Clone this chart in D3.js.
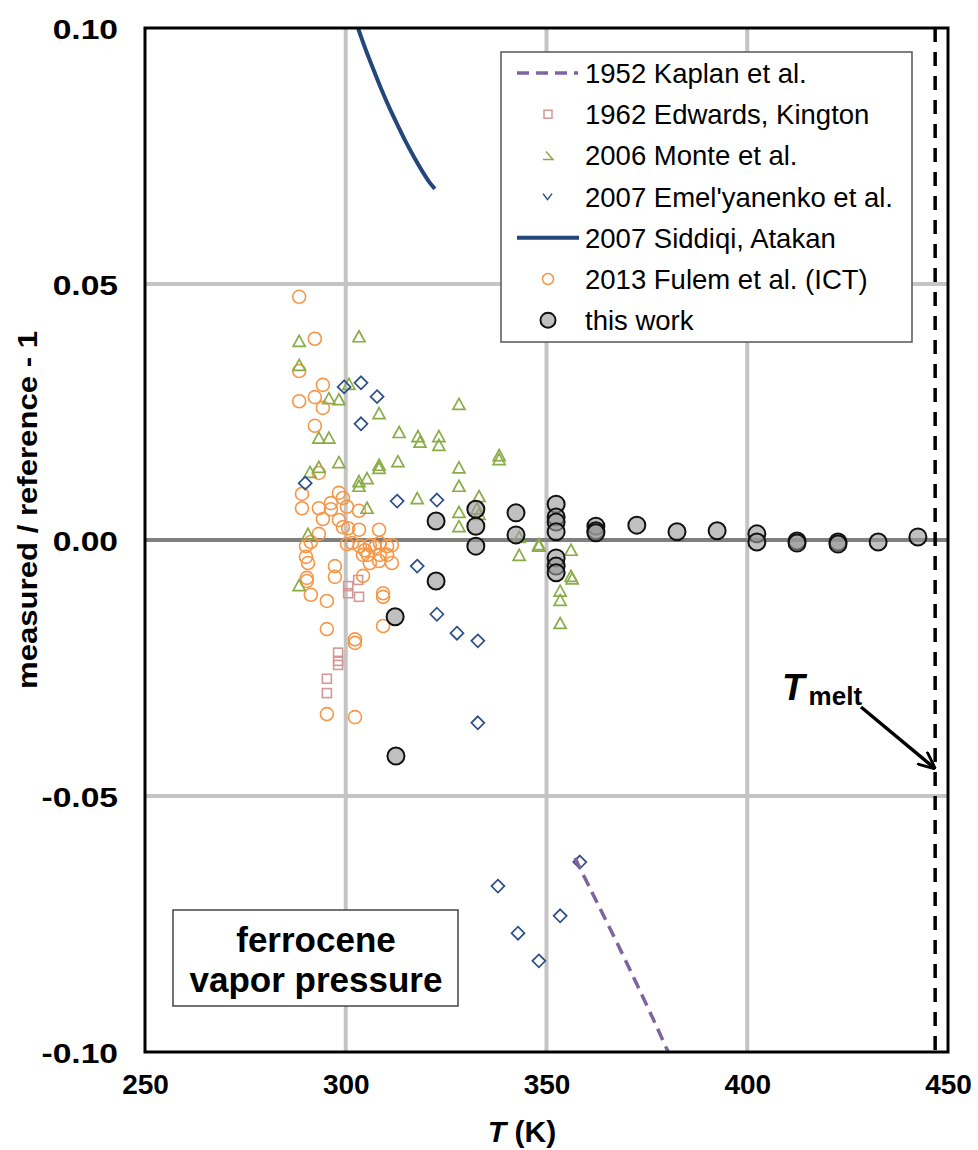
<!DOCTYPE html>
<html>
<head>
<meta charset="utf-8">
<script src="https://cdnjs.cloudflare.com/ajax/libs/d3/7.8.5/d3.min.js"></script>
<style>
  body { margin: 0; background: #fff; }
  text { font-family: "Liberation Sans", Arial, sans-serif; }
</style>
</head>
<body>
<div id="chart"></div>
<script>
// data: [T (K), measured/reference - 1]
var kaplan1952 = [[357.1,-0.0621],[361,-0.0683],[365,-0.0746],[369,-0.0810],[373,-0.0876],[377,-0.0943],[380.3,-0.1]];
var edwards1962 = [[303.1,-0.0078],[300.6,-0.0090],[300.6,-0.0104],[303.3,-0.0111],[298.1,-0.0220],
  [298.1,-0.0236],[298.1,-0.0244],[295.3,-0.0271],[295.3,-0.0299]];
var monte2006 = [[288.4,0.0387],[303.3,0.0396],[288.4,0.0340],[300.8,0.0303],[295.8,0.0275],[298.3,0.0273],
  [308.3,0.0246],[313.3,0.0209],[318.0,0.0201],[293.3,0.0198],[295.8,0.0198],[328.2,0.0264],[318.5,0.0190],
  [323.2,0.0201],[323.2,0.0184],[338.2,0.0164],[338.2,0.0156],[298.3,0.0150],[308.3,0.0145],[308.3,0.0139],
  [313.0,0.0152],[293.3,0.0141],[291.1,0.0131],[303.3,0.0113],[305.3,0.0119],[303.3,0.0104],[305.3,0.0061],
  [317.8,0.0080],[290.6,0.0010],[288.4,-0.0090],[328.2,0.0140],[328.2,0.0104],[333.2,0.0084],[328.2,0.0053],
  [328.2,0.0025],[332.7,0.0060],[333.2,0.0049],[343.2,0.0004],[343.2,-0.0031],[348.1,-0.0010],[348.1,-0.0013],
  [356.1,-0.0021],[356.1,-0.0072],[356.4,-0.0077],[353.4,-0.0101],[353.4,-0.0119],[353.4,-0.0164]];
var emelyanenko2007 = [[299.6,0.0299],[303.8,0.0307],[307.8,0.0280],[303.8,0.0227],[289.9,0.0111],[312.8,0.0076],
  [317.8,-0.0051],[322.7,0.0078],[322.7,-0.0145],[327.7,-0.0182],[332.9,-0.0197],[332.9,-0.0357],[358.3,-0.0629],
  [337.9,-0.0676],[342.9,-0.0768],[353.4,-0.0734],[348.1,-0.0822]];
var siddiqi2007 = [[302.6,0.1010],[305,0.0957],[307,0.0917],[309,0.0878],[311,0.0842],[313,0.0809],[315,0.0777],
  [317,0.0748],[319,0.0721],[321,0.0697],[322.2,0.0686]];
var fulem2013 = [[288.4,0.0475],[292.3,0.0393],[288.4,0.0330],[294.3,0.0303],[288.4,0.0271],[292.3,0.0279],
  [294.3,0.0258],[292.3,0.0223],[293.3,0.0131],[289.1,0.0090],[289.1,0.0062],[298.3,0.0092],[299.3,0.0082],
  [296.3,0.0072],[293.3,0.0062],[296.3,0.0060],[300.3,0.0065],[303.3,0.0057],[294.3,0.0041],[298.3,0.0039],
  [299.3,0.0025],[300.6,0.0023],[303.3,0.0020],[293.3,0.0012],[308.3,0.0020],[291.3,-0.0004],[290.1,-0.0012],
  [300.3,-0.0008],[301.6,-0.0006],[303.5,-0.0012],[304.8,-0.0020],[306.0,-0.0010],[307.3,-0.0014],[308.5,-0.0006],
  [310.3,-0.0012],[311.5,-0.0010],[304.3,-0.0029],[305.5,-0.0029],[290.1,-0.0033],[308.5,-0.0029],[310.3,-0.0029],
  [306.0,-0.0045],[308.3,-0.0041],[290.6,-0.0045],[311.5,-0.0045],[297.3,-0.0051],[304.3,-0.0070],[290.3,-0.0074],
  [297.3,-0.0072],[290.3,-0.0080],[291.3,-0.0107],[295.3,-0.0119],[309.3,-0.0104],[309.3,-0.0111],[309.3,-0.0168],
  [295.3,-0.0174],[302.3,-0.0194],[302.3,-0.0201],[295.3,-0.0340],[302.3,-0.0346]];
var thisWork = [[322.5,0.0037],[322.5,-0.0080],[312.3,-0.0150],[332.4,0.0060],[332.4,0.0027],[332.4,-0.0012],
  [342.4,0.0053],[342.4,0.0010],[352.4,0.0070],[352.4,0.0045],[352.4,0.0035],[352.4,0.0016],[352.4,-0.0035],
  [352.4,-0.0051],[352.4,-0.0064],[312.5,-0.0422],[362.3,0.0027],[362.3,0.0018],[362.3,0.0014],[372.5,0.0029],
  [382.5,0.0016],[392.5,0.0018],[402.4,0.0012],[402.4,-0.0004],[412.4,-0.0002],[412.4,-0.0006],[422.6,-0.0004],
  [422.6,-0.0008],[432.6,-0.0004],[442.5,0.0006]];
var tMelt = 446.8;

var xTicks = [250, 300, 350, 400, 450];
var yTicks = [-0.10, -0.05, 0.00, 0.05, 0.10];
var legendLabels = ["1952 Kaplan et al.", "1962 Edwards, Kington", "2006 Monte et al.",
  "2007 Emel'yanenko et al.", "2007 Siddiqi, Atakan", "2013 Fulem et al. (ICT)", "this work"];

var W = 978, H = 1150;
var margin = {top: 28, right: 30, bottom: 98, left: 145};

var svg = d3.select("#chart").append("svg")
  .attr("width", W).attr("height", H);

var x = d3.scaleLinear().domain([250, 450]).range([margin.left, W - margin.right]);
var y = d3.scaleLinear().domain([-0.1, 0.1]).range([H - margin.bottom, margin.top]);

// ---------------------------//
//       GRID                 //
// ---------------------------//
svg.append("g")
  .selectAll("line.vgrid")
  .data(xTicks.slice(1, -1))
  .enter().append("line")
  .attr("x1", d => x(d)).attr("x2", d => x(d))
  .attr("y1", y(0.1)).attr("y2", y(-0.1))
  .style("stroke", "#c4c4c4").style("stroke-width", 4);

svg.append("g")
  .selectAll("line.hgrid")
  .data([0.05, -0.05])
  .enter().append("line")
  .attr("x1", x(250)).attr("x2", x(450))
  .attr("y1", d => y(d)).attr("y2", d => y(d))
  .style("stroke", "#c4c4c4").style("stroke-width", 4);

svg.append("line")
  .attr("x1", x(250)).attr("x2", x(450))
  .attr("y1", y(0)).attr("y2", y(0))
  .style("stroke", "#7f7f7f").style("stroke-width", 4);

// ---------------------------//
//       AXES                 //
// ---------------------------//
var xAxis = svg.append("g")
  .attr("transform", "translate(0," + (y(-0.1) + 14) + ")")
  .call(d3.axisBottom(x).tickValues(xTicks).tickSize(0).tickFormat(d3.format("d")));
var yAxis = svg.append("g")
  .attr("transform", "translate(" + (x(250) - 27) + ",0)")
  .call(d3.axisLeft(y).tickValues(yTicks).tickSize(0)
    .tickFormat(d => d3.format(".2f")(d).replace("\u2212", "-")));
[xAxis, yAxis].forEach(function(g) {
  g.select(".domain").remove();
  g.selectAll("text")
    .style("font-family", "'Liberation Sans', Arial, sans-serif")
    .style("font-weight", "bold")
    .style("font-size", "28px")
    .attr("fill", "#000");
});
xAxis.selectAll("text").attr("dy", "0.9em");
// the y labels are drawn wider than the x labels in the original
yAxis.selectAll("text").attr("x", 0).attr("dy", "0.36em").attr("transform", "scale(1.2,1)");

svg.append("text")
  .attr("transform", "translate(37," + 510 + ") rotate(-90)")
  .attr("text-anchor", "middle")
  .attr("textLength", 358).attr("lengthAdjust", "spacingAndGlyphs")
  .style("font-weight", "bold").style("font-size", "27px")
  .text("measured / reference - 1");

var xt = svg.append("text")
  .attr("x", 522).attr("y", 1142)
  .attr("text-anchor", "middle")
  .style("font-weight", "bold").style("font-size", "30px");
xt.append("tspan").style("font-style", "italic").text("T");
xt.append("tspan").text(" (K)");

// ---------------------------//
//       SERIES               //
// ---------------------------//
var plot = svg.append("g");
var line = d3.line().x(d => x(d[0])).y(d => y(d[1])).curve(d3.curveMonotoneX);

svg.append("defs").append("clipPath").attr("id", "clip")
  .append("rect")
  .attr("x", x(250)).attr("y", y(0.1))
  .attr("width", x(450) - x(250)).attr("height", y(-0.1) - y(0.1));

plot.selectAll("rect.edw")
  .data(edwards1962).enter().append("rect")
  .attr("x", d => x(d[0]) - 4.5).attr("y", d => y(d[1]) - 4.5)
  .attr("width", 9).attr("height", 9)
  .style("fill", "none").style("stroke", "#d39896").style("stroke-width", 1.6);

plot.selectAll("circle.ful")
  .data(fulem2013).enter().append("circle")
  .attr("cx", d => x(d[0])).attr("cy", d => y(d[1])).attr("r", 6.5)
  .style("fill", "none").style("stroke", "#f79646").style("stroke-width", 1.6);

var tri = "M0,-6.5L6,4.5L-6,4.5Z";
plot.selectAll("path.mon")
  .data(monte2006).enter().append("path")
  .attr("d", tri)
  .attr("transform", d => "translate(" + x(d[0]) + "," + y(d[1]) + ")")
  .style("fill", "none").style("stroke", "#8aac47").style("stroke-width", 1.7);

var dia = "M0,-6.5L6.5,0L0,6.5L-6.5,0Z";
plot.selectAll("path.eme")
  .data(emelyanenko2007).enter().append("path")
  .attr("d", dia)
  .attr("transform", d => "translate(" + x(d[0]) + "," + y(d[1]) + ")")
  .style("fill", "none").style("stroke", "#2b4f86").style("stroke-width", 1.7);

plot.append("path")
  .datum(siddiqi2007)
  .attr("clip-path", "url(#clip)")
  .attr("d", line.curve(d3.curveCatmullRom))
  .style("fill", "none").style("stroke", "#24477b").style("stroke-width", 4);

plot.append("path")
  .datum(kaplan1952)
  .attr("clip-path", "url(#clip)")
  .attr("d", line.curve(d3.curveCatmullRom))
  .style("fill", "none").style("stroke", "#8064a2").style("stroke-width", 3.5)
  .style("stroke-dasharray", "12,7");

plot.selectAll("circle.tw")
  .data(thisWork).enter().append("circle")
  .attr("cx", d => x(d[0])).attr("cy", d => y(d[1])).attr("r", 8.5)
  .style("fill", "#999").style("fill-opacity", 0.62)
  .style("stroke", "#111").style("stroke-width", 2);

// melting point
svg.append("line")
  .attr("x1", x(tMelt)).attr("x2", x(tMelt))
  .attr("y1", y(0.1)).attr("y2", y(-0.1))
  .style("stroke", "#000").style("stroke-width", 3.5)
  .style("stroke-dasharray", "14,10");

// plot frame
svg.append("rect")
  .attr("x", x(250)).attr("y", y(0.1))
  .attr("width", x(450) - x(250)).attr("height", y(-0.1) - y(0.1))
  .style("fill", "none").style("stroke", "#000").style("stroke-width", 3);

// ---------------------------//
//       T_melt NOTE          //
// ---------------------------//
svg.append("defs").append("marker")
  .attr("id", "arrow").attr("viewBox", "0 0 10 10")
  .attr("refX", 9).attr("refY", 5)
  .attr("markerWidth", 5).attr("markerHeight", 5)
  .attr("orient", "auto")
  .append("path").attr("d", "M0,0.5L10,5L0,9.5").style("fill", "none")
  .style("stroke", "#000").style("stroke-width", 1.6);

svg.append("line")
  .attr("x1", 861).attr("y1", 707)
  .attr("x2", x(tMelt) - 1).attr("y2", y(-0.0445))
  .style("stroke", "#000").style("stroke-width", 3.5)
  .attr("marker-end", "url(#arrow)");

var tm = svg.append("text").attr("x", 782).attr("y", 700)
  .style("font-weight", "bold");
tm.append("tspan").style("font-style", "italic").style("font-size", "37px").text("T");
tm.append("tspan").attr("dx", 4).attr("dy", 5).style("font-size", "26px").text("melt");

// ---------------------------//
//       LEGEND               //
// ---------------------------//
var lg = svg.append("g");
lg.append("rect")
  .attr("x", 501).attr("y", 52).attr("width", 411).attr("height", 290)
  .style("fill", "#fff").style("stroke", "#555").style("stroke-width", 1.5);

var rowY = d => 73 + d * 41.2;
var symX = 548;
var rows = lg.selectAll("g.row").data(legendLabels).enter().append("g")
  .attr("transform", (d, i) => "translate(0," + rowY(i) + ")");
rows.append("text")
  .attr("x", 585).attr("dy", "0.36em")
  .style("font-size", "27.5px")
  .text(d => d);

lg.append("line").attr("x1", 517).attr("x2", 578).attr("y1", rowY(0)).attr("y2", rowY(0))
  .style("stroke", "#8064a2").style("stroke-width", 3.5).style("stroke-dasharray", "12,7");
lg.append("rect").attr("x", symX - 4).attr("y", rowY(1) - 4).attr("width", 8).attr("height", 8)
  .style("fill", "none").style("stroke", "#d39896").style("stroke-width", 1.5);
lg.append("path").attr("d", "M-5,4L5,4L-2,-4")
  .attr("transform", "translate(" + symX + "," + rowY(2) + ")")
  .style("fill", "none").style("stroke", "#8aac47").style("stroke-width", 1.5);
lg.append("path").attr("d", "M-5,-3L-0.5,3L4,-3")
  .attr("transform", "translate(" + symX + "," + rowY(3) + ")")
  .style("fill", "none").style("stroke", "#2b4f86").style("stroke-width", 1.5);
lg.append("line").attr("x1", 517).attr("x2", 579).attr("y1", rowY(4)).attr("y2", rowY(4))
  .style("stroke", "#24477b").style("stroke-width", 4);
lg.append("circle").attr("cx", symX).attr("cy", rowY(5)).attr("r", 5.5)
  .style("fill", "none").style("stroke", "#f79646").style("stroke-width", 1.5);
lg.append("circle").attr("cx", symX).attr("cy", rowY(6)).attr("r", 7.5)
  .style("fill", "#c0c0c0").style("stroke", "#111").style("stroke-width", 2);

// ---------------------------//
//       TITLE BOX            //
// ---------------------------//
svg.append("rect")
  .attr("x", 173).attr("y", 910).attr("width", 285).attr("height", 96)
  .style("fill", "#fff").style("stroke", "#444").style("stroke-width", 1.5);
svg.append("text")
  .attr("x", 316).attr("y", 952).attr("text-anchor", "middle")
  .style("font-weight", "bold").style("font-size", "35px")
  .text("ferrocene");
svg.append("text")
  .attr("x", 316).attr("y", 992).attr("text-anchor", "middle")
  .style("font-weight", "bold").style("font-size", "35px")
  .text("vapor pressure");
</script>
</body>
</html>
